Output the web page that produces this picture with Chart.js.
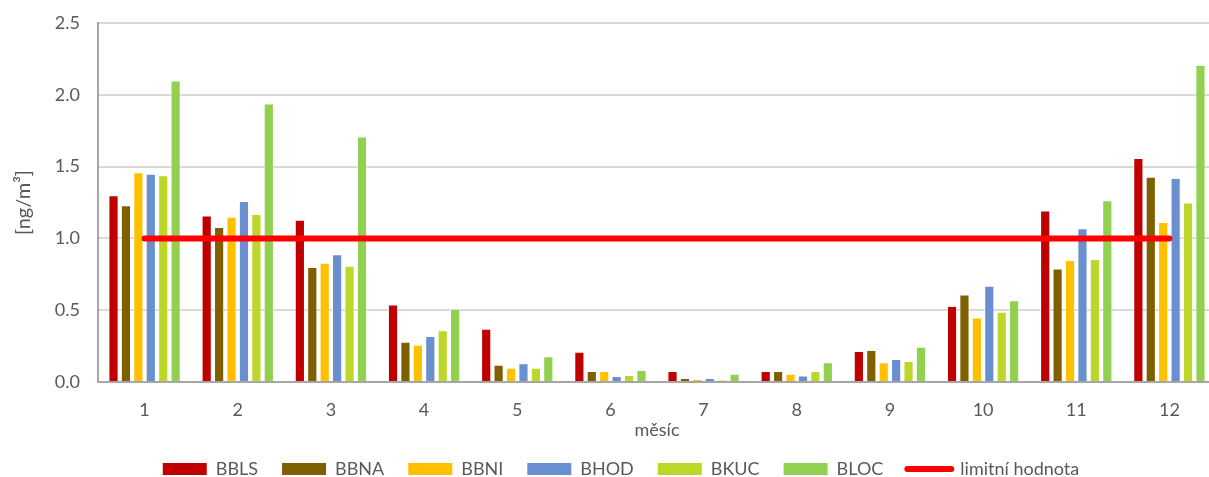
<!DOCTYPE html>
<html>
<head>
<meta charset="utf-8">
<script src="https://cdn.jsdelivr.net/npm/chart.js@4/dist/chart.umd.min.js"></script>
<style>
html,body{margin:0;padding:0;background:#fff;overflow:hidden;}
#wrap{width:1216px;height:477px;}
</style>
</head>
<body>
<div id="wrap"><canvas id="c" width="1216" height="477"></canvas></div>
<script>
const months = ['1','2','3','4','5','6','7','8','9','10','11','12'];
const BBLS = [1.30,1.16,1.13,0.54,0.37,0.21,0.077,0.077,0.216,0.53,1.195,1.56];
const BBNA = [1.23,1.08,0.80,0.28,0.12,0.077,0.028,0.077,0.223,0.61,0.79,1.43];
const BBNI = [1.46,1.15,0.83,0.26,0.10,0.077,0.021,0.058,0.137,0.45,0.85,1.115];
const BHOD = [1.45,1.26,0.89,0.32,0.13,0.042,0.028,0.045,0.16,0.67,1.07,1.42];
const BKUC = [1.44,1.17,0.81,0.36,0.10,0.049,0.014,0.077,0.146,0.49,0.857,1.25];
const BLOC = [2.10,1.94,1.71,0.51,0.18,0.084,0.058,0.137,0.246,0.57,1.265,2.21];
const LIMIT = [1,1,1,1,1,1,1,1,1,1,1,1];
const yTicks = [0,0.5,1.0,1.5,2.0,2.5];

const FONT = 'Lato, "Open Sans", sans-serif';
const grey = '#595959';

function bar(label, data, color){
  return {type:'bar', label, data, backgroundColor:color, borderColor:'rgba(255,255,255,0.7)', borderWidth:1, order:1};
}

const legendFit = {
  id:'legendFit',
  beforeLayout(chart){
    const lg = chart.legend;
    if (lg && !lg._patched){
      const f = lg.fit;
      lg.fit = function(){ f.call(this); this.height = 41; };
      lg._patched = true;
    }
  },
  afterLayout(chart){
    const lg = chart.legend;
    if (lg){ lg.left += 26; }
  }
};

new Chart(document.getElementById('c'), {
  type:'bar',
  plugins:[legendFit],
  data:{
    labels: months,
    datasets:[
      bar('BBLS', BBLS, '#C00000'),
      bar('BBNA', BBNA, '#7F6000'),
      bar('BBNI', BBNI, '#FFC000'),
      bar('BHOD', BHOD, '#6A8FD0'),
      bar('BKUC', BKUC, '#BDD62A'),
      bar('BLOC', BLOC, '#92D050'),
      {type:'line', label:'limitní hodnota', data:LIMIT, borderColor:'#FF0000', backgroundColor:'#FF0000',
       borderWidth:6, pointRadius:0, borderCapStyle:'round', order:0}
    ]
  },
  options:{
    responsive:false,
    animation:false,
    devicePixelRatio:1,
    layout:{padding:{left:0,right:0,top:23,bottom:0}},
    datasets:{bar:{categoryPercentage:0.8, barPercentage:0.82}},
    plugins:{
      tooltip:{enabled:false},
      legend:{
        position:'bottom',
        labels:{
          font:{family:FONT,size:18},
          color:grey,
          usePointStyle:true,
          pointStyleWidth:44,
          boxHeight:12,
          padding:24,
          sort:(a,b)=>a.datasetIndex-b.datasetIndex,
          generateLabels(chart){
            return chart.data.datasets.map((ds,i)=>{
              const isLine = ds.type==='line';
              return {
                text: ds.label,
                datasetIndex:i,
                fillStyle: ds.backgroundColor,
                strokeStyle: isLine ? ds.borderColor : ds.backgroundColor,
                lineWidth: isLine ? 6 : 0,
                lineCap: isLine ? 'round' : 'butt',
                pointStyle: isLine ? 'line' : 'rect',
                fontColor: grey,
                hidden:false
              };
            });
          }
        }
      }
    },
    scales:{
      x:{
        grid:{display:false, drawTicks:false},
        border:{display:true, color:'#A6A6A6', width:2},
        ticks:{font:{family:FONT,size:18}, color:grey, padding:17},
        title:{display:true, text:'měsíc', font:{family:FONT,size:18,lineHeight:0.6}, color:grey, padding:{top:0,bottom:0}},
        afterFit(scale){ scale.height = 54; }
      },
      y:{
        min:0, max:2.5,
        afterBuildTicks(scale){ scale.ticks = yTicks.map(v=>({value:v})); },
        grid:{color:'#D9D9D9', lineWidth:2, drawTicks:false},
        border:{display:true, color:'#A6A6A6', width:2},
        ticks:{font:{family:FONT,size:18}, color:grey, padding:18, callback:v=>Number(v).toFixed(1)},
        title:{display:true, text:'[ng/m³]', font:{family:FONT,size:20}, color:grey, padding:{top:12,bottom:0}},
        afterFit(scale){ scale.width = 98; scale.paddingTop = 0; scale.paddingBottom = 0; }
      }
    }
  }
});
</script>
</body>
</html>
